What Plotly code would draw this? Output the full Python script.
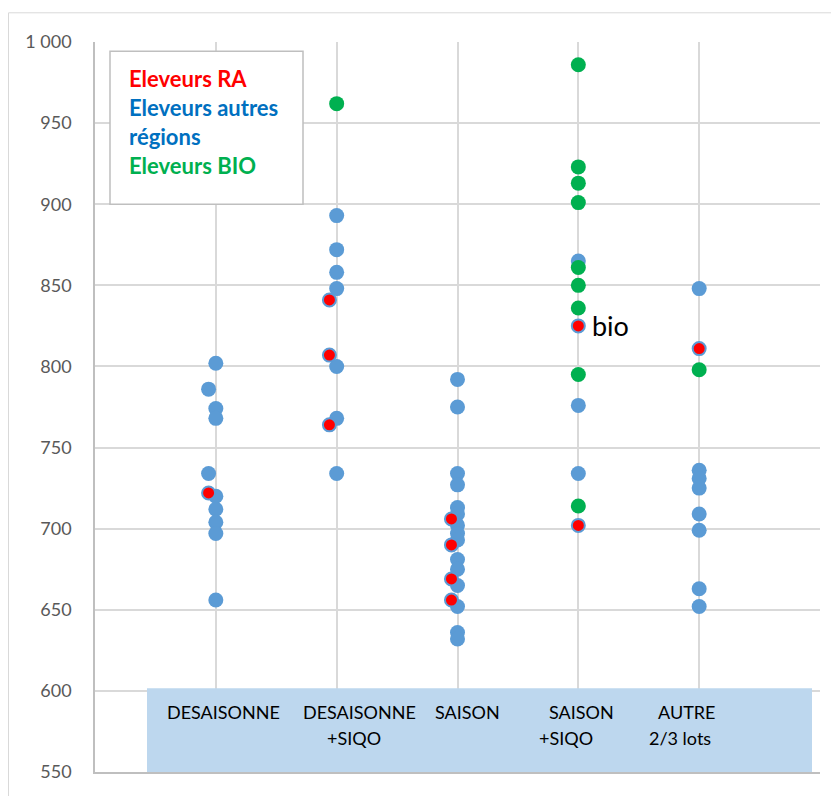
import plotly.graph_objects as go

# ---------------- data ----------------
cat_line1 = ["DESAISONNE", "DESAISONNE", "SAISON", "SAISON", "AUTRE"]
cat_line2 = ["", "+SIQO", "", "+SIQO", "2/3 lots"]

y_tick_values = [550, 600, 650, 700, 750, 800, 850, 900, 950, 1000]
y_tick_labels = ["550", "600", "650", "700", "750", "800", "850", "900", "950", "1 000"]

# Eleveurs autres régions (blue)
blue_x = [1, 0.94, 1, 1, 0.94, 1, 1, 1, 1, 1,
          2, 2, 2, 2, 2, 2, 2,
          3, 3, 3, 3, 3, 3, 3, 3, 3, 3, 3, 3, 3, 3, 3,
          4, 4, 4,
          5, 5, 5, 5, 5, 5, 5, 5]
blue_y = [802, 786, 774, 768, 734, 720, 712, 704, 697, 656,
          893, 872, 858, 848, 800, 768, 734,
          792, 775, 734, 727, 713, 709, 702, 697, 693, 681, 675, 665, 652, 636, 632,
          865, 776, 734,
          848, 736, 731, 725, 709, 699, 663, 652]

# Eleveurs BIO (green)
green_x = [2, 4, 4, 4, 4, 4, 4, 4, 4, 4, 5]
green_y = [962, 986, 923, 913, 901, 861, 850, 836, 795, 714, 798]

# Eleveurs RA (red)
red_x = [0.94, 1.94, 1.94, 1.94, 2.95, 2.95, 2.95, 2.95, 4, 4, 5]
red_y = [722, 841, 807, 764, 706, 690, 669, 656, 825, 702, 811]

legend_lines = ["Eleveurs RA", "Eleveurs autres", "régions", "Eleveurs BIO"]
bio_label = "bio"
bio_index = 8  # red point labelled "bio"

# ---------------- layout helpers ----------------
OFF = 8  # page body margin: screen px = figure px + 8
W, H = 831, 788
PL, PR, PT, PB = 95 - OFF, 820 - OFF, 41.7 - OFF, 771.7 - OFF
FONT = "Lato"
BLUE = "#5B9BD5"
RED = "#FF0000"
GREEN = "#00B050"
GRID = "#D9D9D9"


def px(sx):
    return (sx - OFF - PL) / (PR - PL)


def py(sy):
    return (PB - (sy - OFF)) / (PB - PT)


fig = go.Figure()
fig.add_trace(go.Scatter(x=blue_x, y=blue_y, mode="markers",
                         marker=dict(color=BLUE, size=15, line=dict(width=0)),
                         name="Eleveurs autres régions", hoverinfo="y"))
fig.add_trace(go.Scatter(x=green_x, y=green_y, mode="markers",
                         marker=dict(color=GREEN, size=15, line=dict(width=0)),
                         name="Eleveurs BIO", hoverinfo="y"))
fig.add_trace(go.Scatter(x=red_x, y=red_y, mode="markers",
                         marker=dict(color=RED, size=13, line=dict(width=2, color=BLUE)),
                         name="Eleveurs RA", hoverinfo="y"))

shapes = [
    # outer chart border
    dict(type="rect", xref="paper", yref="paper",
         x0=px(8.5), x1=px(870), y0=py(840), y1=py(12.5),
         line=dict(color=GRID, width=1), fillcolor="rgba(0,0,0,0)", layer="below"),
    # category label box
    dict(type="rect", xref="paper", yref="paper",
         x0=px(147), x1=px(812), y0=0, y1=py(688),
         line=dict(width=0), fillcolor="#BDD7EE", layer="above"),
    # legend box
    dict(type="rect", xref="paper", yref="paper",
         x0=px(110), x1=px(303), y0=py(204), y1=py(51),
         line=dict(color="#BFBFBF", width=1.5), fillcolor="white", layer="above"),
]

annotations = []
legend_colors = [RED, "#0070C0", "#0070C0", GREEN]
legend_y = [78, 107, 136, 165]
for txt, col, yy in zip(legend_lines, legend_colors, legend_y):
    annotations.append(dict(text="<b>" + txt + "</b>", xref="paper", yref="paper",
                            x=px(127), y=py(yy), xanchor="left", yanchor="middle",
                            showarrow=False, font=dict(family=FONT, size=22, color=col)))

off1 = [8, 23, 10, 3, -13]
off2 = [0, 17, 0, -12, -19]
for i, (t1, t2) in enumerate(zip(cat_line1, cat_line2)):
    annotations.append(dict(text=t1, xref="x", yref="paper", x=i + 1, xshift=off1[i],
                            y=py(712), xanchor="center", yanchor="middle", showarrow=False,
                            font=dict(family=FONT, size=18, color="black")))
    if t2:
        annotations.append(dict(text=t2, xref="x", yref="paper", x=i + 1, xshift=off2[i],
                                y=py(738), xanchor="center", yanchor="middle", showarrow=False,
                                font=dict(family=FONT, size=18, color="black")))

annotations.append(dict(text=bio_label, xref="x", yref="y",
                        x=red_x[bio_index], y=red_y[bio_index], xshift=12,
                        xanchor="left", yanchor="middle", showarrow=False,
                        font=dict(family=FONT, size=27, color="black")))

fig.update_layout(
    width=W, height=H,
    margin=dict(l=PL, r=W - PR, t=PT, b=H - PB, pad=0, autoexpand=False),
    paper_bgcolor="white", plot_bgcolor="white",
    showlegend=False,
    shapes=shapes,
    annotations=annotations,
    font=dict(family=FONT),
    xaxis=dict(range=[0, 6], tick0=0, dtick=1, showticklabels=False,
               showgrid=True, gridcolor=GRID, gridwidth=1.5, zeroline=False,
               showline=True, linecolor="#BFBFBF", linewidth=1.5, ticks="",
               automargin=False),
    yaxis=dict(range=[550, 1000], tickmode="array", tickvals=y_tick_values,
               ticktext=y_tick_labels,
               showgrid=True, gridcolor=GRID, gridwidth=1.5, zeroline=False,
               showline=True, linecolor="#BFBFBF", linewidth=1.5,
               ticks="", ticklabelstandoff=18, automargin=False,
               tickfont=dict(family=FONT, size=18, color="#595959")),
)

fig.write_html("out.html")
